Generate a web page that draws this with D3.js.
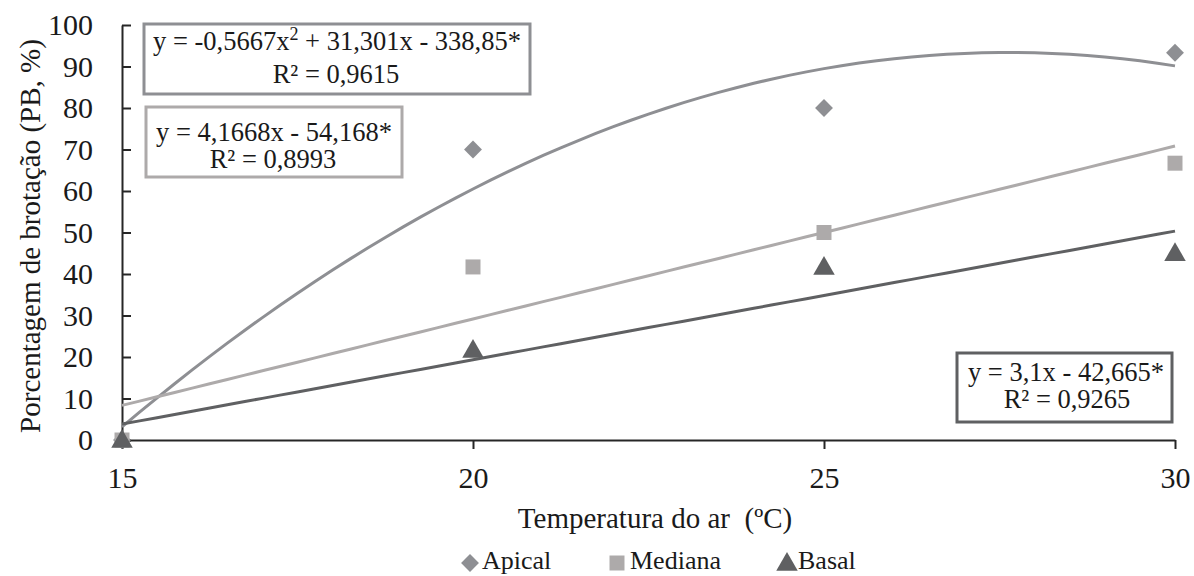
<!DOCTYPE html>
<html>
<head>
<meta charset="utf-8">
<script src="https://cdn.jsdelivr.net/npm/d3@7"></script>
<style>
    html, body { margin: 0; padding: 0; background: #fff; }
    svg { display: block; }
    svg text { font-family: "Liberation Serif", "Times New Roman", serif; }
</style>
</head>
<body>
<div id="chart"></div>
<script>
// temperatures (x) and observed sprouting percentages per bud position
const temperatures = [15, 20, 25, 30];
const apicalValues = [0, 70, 80, 93.3];
const medianaValues = [0, 41.7, 50, 66.7];
const basalValues = [0, 21.7, 41.7, 45];

const xTicks = [15, 20, 25, 30];
const yTicks = [0, 10, 20, 30, 40, 50, 60, 70, 80, 90, 100];

// trendline coefficients as printed on the chart: [a2, a1, a0]
const apicalTrend = [-0.5667, 31.301, -338.85];
const medianaTrend = [0, 4.1668, -54.168];
const basalTrend = [0, 3.1, -42.665];

const seriesNames = ['Apical', 'Mediana', 'Basal'];

const WIDTH = 1194;
const HEIGHT = 576;
const SERIF = '"Liberation Serif", "Times New Roman", serif';

const SERIES = [
    { name: seriesNames[0], values: apicalValues, trend: apicalTrend, color: '#8e8f93', shape: 'diamond' },
    { name: seriesNames[1], values: medianaValues, trend: medianaTrend, color: '#adaaaa', shape: 'square' },
    { name: seriesNames[2], values: basalValues, trend: basalTrend, color: '#5f6062', shape: 'triangle' }
];

function drawMarker(group, shape, color, cx, cy) {
    const size = shape === 'diamond' ? 160 : shape === 'square' ? 225 : 200;
    const type = shape === 'triangle' ? d3.symbolTriangle : d3.symbolSquare;
    group.append('path')
        .attr('d', d3.symbol().type(type).size(size)())
        .attr('fill', color)
        .attr('transform', `translate(${cx},${cy + (shape === 'triangle' ? 1.5 : 0)})${shape === 'diamond' ? ' rotate(45)' : ''}`);
}

const svg = d3.select('#chart').append('svg')
    .attr('width', WIDTH)
    .attr('height', HEIGHT);

const xScale = d3.scaleLinear().domain([15, 30]).range([122, 1175]);
const yScale = d3.scaleLinear().domain([0, 100]).range([440, 25]);

function styleAxis(group) {
    group.attr('font-family', SERIF);
    group.selectAll('line, path').attr('stroke', '#262626').attr('stroke-width', 2);
    group.selectAll('text')
        .attr('fill', '#1a1a1a')
        .attr('font-family', SERIF)
        .style('font-size', '30px');
}

// axes
svg.append('g')
    .attr('transform', `translate(${xScale(15)},0)`)
    .call(d3.axisLeft(yScale).tickValues(yTicks).tickSizeInner(-9).tickSizeOuter(0).tickPadding(29))
    .call(styleAxis);

svg.append('g')
    .attr('transform', `translate(0,${yScale(0)})`)
    .call(d3.axisBottom(xScale).tickValues(xTicks).tickSize(9).tickSizeOuter(0).tickPadding(18))
    .call(styleAxis);

// trendlines
const trendX = d3.range(15, 30.001, 0.25);
const lineGenerator = d3.line()
    .x((datum) => xScale(datum[0]))
    .y((datum) => yScale(datum[1]));

SERIES.forEach((series) => {
    const [a2, a1, a0] = series.trend;
    svg.append('path')
        .datum(trendX.map((x) => [x, a2 * x * x + a1 * x + a0]))
        .attr('fill', 'none')
        .attr('stroke', series.color)
        .attr('stroke-width', 3)
        .attr('d', lineGenerator);
});

// markers
SERIES.forEach((series) => {
    const markerGroup = svg.append('g');
    series.values.forEach((value, index) => {
        drawMarker(markerGroup, series.shape, series.color, xScale(temperatures[index]), yScale(value));
    });
});

// equation boxes
const boxes = [
    { x: 144, y: 24, w: 386, h: 70, color: '#8e8f93', lines: [
        { x: 337, y: 50, parts: [['y = -0,5667x', false], ['2', true], [' + 31,301x - 338,85*', false]] },
        { x: 336, y: 83, parts: [['R² = 0,9615', false]] }
    ] },
    { x: 146, y: 107, w: 256, h: 70, color: '#adaaaa', lines: [
        { x: 274, y: 141, parts: [['y = 4,1668x - 54,168*', false]] },
        { x: 273, y: 168, parts: [['R² = 0,8993', false]] }
    ] },
    { x: 957, y: 353, w: 215, h: 69, color: '#5f6062', lines: [
        { x: 1066, y: 381, parts: [['y = 3,1x - 42,665*', false]] },
        { x: 1067, y: 408, parts: [['R² = 0,9265', false]] }
    ] }
];

boxes.forEach((box) => {
    svg.append('rect')
        .attr('x', box.x)
        .attr('y', box.y)
        .attr('width', box.w)
        .attr('height', box.h)
        .attr('fill', '#fff')
        .attr('stroke', box.color)
        .attr('stroke-width', 3);

    box.lines.forEach((line) => {
        const text = svg.append('text')
            .attr('x', line.x)
            .attr('y', line.y)
            .attr('text-anchor', 'middle')
            .attr('fill', '#1a1a1a')
            .style('font-size', '26.5px');
        line.parts.forEach(([content, isSuper]) => {
            const span = text.append('tspan').text(content);
            if (isSuper) {
                span.attr('dy', -10).style('font-size', '18px');
            } else if (content.startsWith(' +')) {
                span.attr('dy', 10);
            }
        });
    });
});

// axis titles
svg.append('text')
    .attr('x', 655)
    .attr('y', 528)
    .attr('text-anchor', 'middle')
    .attr('fill', '#1a1a1a')
    .style('font-size', '29px')
    .style('white-space', 'pre')
    .text('Temperatura do ar  (ºC)');

svg.append('text')
    .attr('transform', 'rotate(-90)')
    .attr('x', -236)
    .attr('y', 40)
    .attr('text-anchor', 'middle')
    .attr('fill', '#1a1a1a')
    .style('font-size', '29px')
    .text('Porcentagem de brotação (PB, %)');

// legend
const legendItems = [
    { series: SERIES[0], markerX: 470, textX: 482 },
    { series: SERIES[1], markerX: 617, textX: 630 },
    { series: SERIES[2], markerX: 787, textX: 798 }
];

const legend = svg.append('g');
legendItems.forEach((item) => {
    drawMarker(legend, item.series.shape, item.series.color, item.markerX, 563);
    legend.append('text')
        .attr('x', item.textX)
        .attr('y', 569)
        .attr('fill', '#1a1a1a')
        .style('font-size', '26px')
        .text(item.series.name);
});
</script>
</body>
</html>
